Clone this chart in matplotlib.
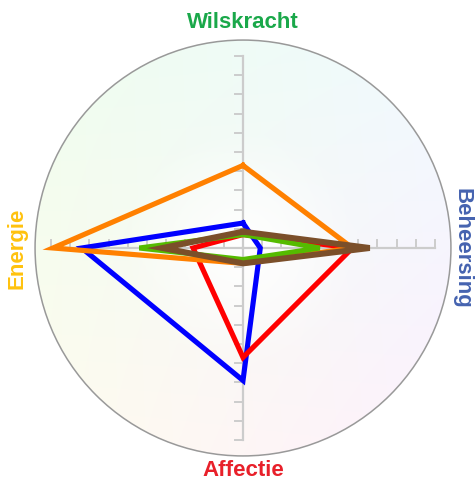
import matplotlib
matplotlib.use("Agg")
import matplotlib.pyplot as plt
import numpy as np
from matplotlib.patches import Circle

# assen: boven, rechts, onder, links
assen = ["Wilskracht", "Beheersing", "Affectie", "Energie"]
as_kleuren = ["#1aa84a", "#4563b0", "#e8202a", "#ffc20e"]

# waarden per reeks (boven, rechts, onder, links), schaal 0-10
oranje = [4.3, 5.7, 0.8, 9.9]
blauw = [1.3, 0.9, 6.9, 8.4]
rood = [0.7, 5.7, 5.7, 2.6]
groen = [0.7, 4.0, 0.6, 5.4]
bruin = [0.85, 6.6, 0.8, 4.2]

reeksen = [blauw, rood, oranje, groen, bruin]
reeks_kleuren = ["#0000ff", "#ff0000", "#ff8000", "#55bb00", "#7b4f2a"]
reeks_dikte = [3.7, 3.7, 3.7, 3.7, 4.3]

hoeken = np.deg2rad([90, 0, 270, 180])
schaal = 19.2          # pixels per eenheid
cx, cy = 243, 248      # middelpunt in pixels
W, H = 476, 482

fig = plt.figure(figsize=(W / 100, H / 100), dpi=100)
ax = fig.add_axes([0, 0, 1, 1])
ax.set_xlim(-cx / schaal, (W - cx) / schaal)
ax.set_ylim(-(H - cy) / schaal, cy / schaal)
ax.set_aspect("equal")
ax.axis("off")

# zachte kleurverloop-achtergrond in de cirkel
R = 10.83
n = 300
xs = np.linspace(-R, R, n)
X, Y = np.meshgrid(xs, xs[::-1])
u = (X + R) / (2 * R)
v = (Y + R) / (2 * R)
tl = np.array([238, 253, 238]) / 255
tr = np.array([240, 250, 255]) / 255
bl = np.array([255, 252, 238]) / 255
br = np.array([253, 240, 253]) / 255
img = (tl * ((1 - u) * v)[..., None] + tr * (u * v)[..., None]
       + bl * ((1 - u) * (1 - v))[..., None] + br * (u * (1 - v))[..., None])
r = np.sqrt(X ** 2 + Y ** 2) / R
f = np.clip(1 - r * 1.8, 0, 1)[..., None]
img = img * (1 - f) + f
im = ax.imshow(img, extent=[-R, R, -R, R], zorder=0)
clip = Circle((0, 0), R, transform=ax.transData)
im.set_clip_path(clip)
ax.add_patch(Circle((0, 0), R, fill=False, ec="#999999", lw=1.1, zorder=1))

# assen met streepjes
for h in hoeken:
    dx, dy = np.cos(h), np.sin(h)
    ax.plot([0, 10 * dx], [0, 10 * dy], color="#cccccc", lw=1.6, zorder=2)
    for i in range(1, 11):
        px, py = i * dx, i * dy
        if abs(dx) < 0.5:
            ax.plot([px - 0.42, px], [py, py], color="#cccccc", lw=1.4, zorder=2)
        else:
            ax.plot([px, px], [py, py + 0.42], color="#cccccc", lw=1.4, zorder=2)

for waarden, kleur, dikte in zip(reeksen, reeks_kleuren, reeks_dikte):
    w = np.array(waarden + waarden[:1])
    a = np.append(hoeken, hoeken[0])
    ax.plot(w * np.cos(a), w * np.sin(a), color=kleur, lw=dikte,
            solid_joinstyle="miter", zorder=3)

lab = dict(fontsize=16, fontweight="bold", family="Liberation Sans",
           ha="center", va="center")
ax.text(0, (cy - 22) / schaal, assen[0], color=as_kleuren[0], **lab)
ax.text((462 - cx) / schaal, 0, assen[1], color=as_kleuren[1], rotation=-90, **lab)
ax.text(0, -(471 - cy) / schaal, assen[2], color=as_kleuren[2], **lab)
ax.text(-(cx - 17) / schaal, 0, assen[3], color=as_kleuren[3], rotation=90, **lab)

fig.savefig("out.png", dpi=100)
